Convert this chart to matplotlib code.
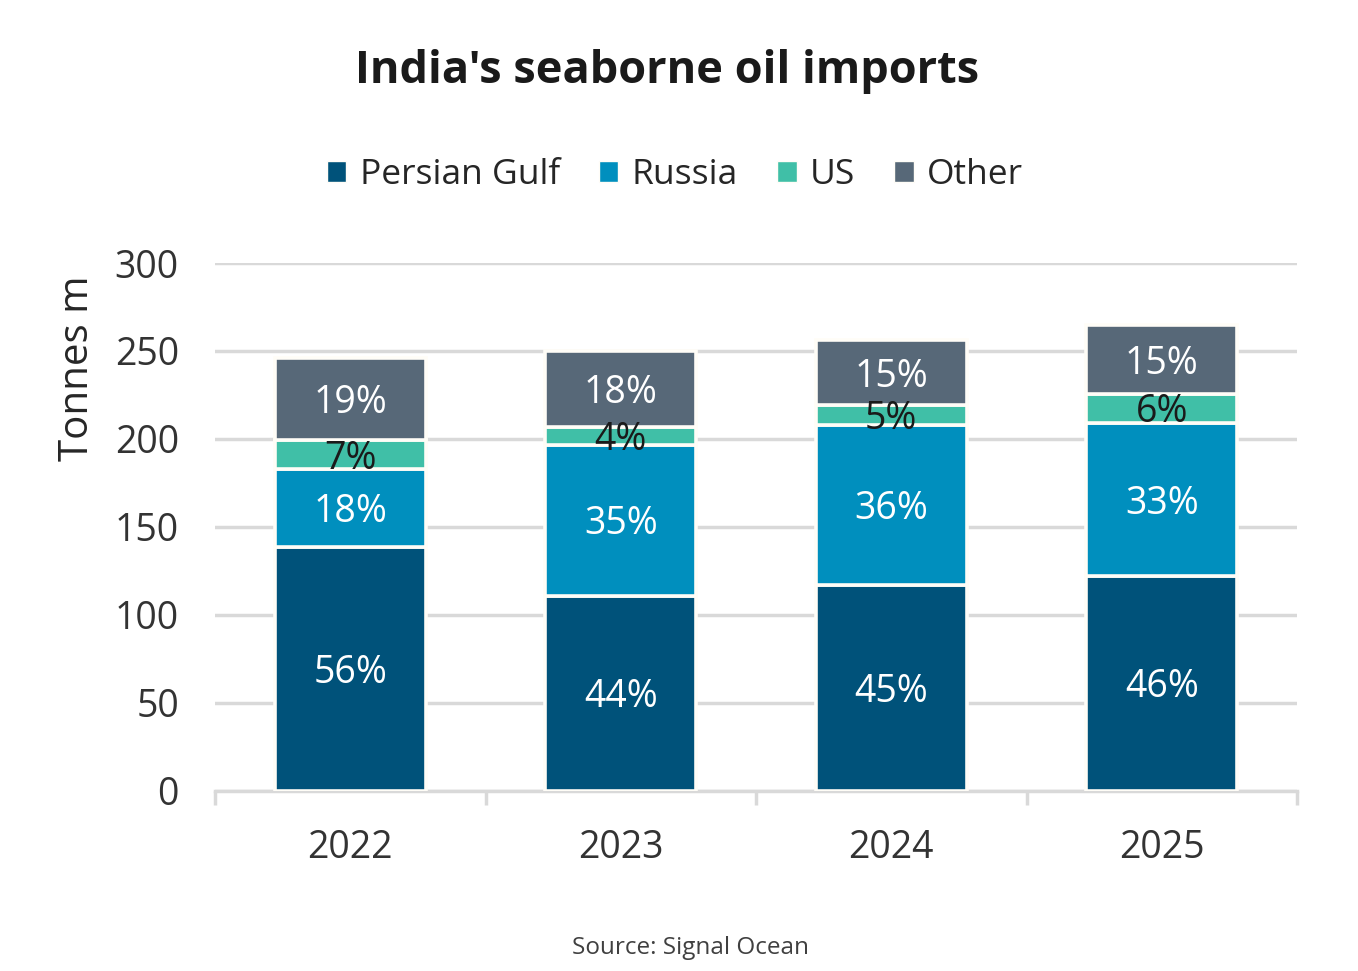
import matplotlib
matplotlib.use("Agg")
import matplotlib.pyplot as plt
from matplotlib.patches import Patch
import numpy as np

years = ["2022", "2023", "2024", "2025"]
persian_gulf = [138.3, 110.7, 116.8, 121.9]
russia = [44.4, 85.9, 91.0, 87.3]
us = [16.5, 10.1, 11.4, 16.3]
other = [46.7, 43.0, 36.8, 39.1]

pg_labels = ["56%", "44%", "45%", "46%"]
ru_labels = ["18%", "35%", "36%", "33%"]
us_labels = ["7%", "4%", "5%", "6%"]
ot_labels = ["19%", "18%", "15%", "15%"]

series_names = ["Persian Gulf", "Russia", "US", "Other"]
colors = ["#00527A", "#008FBE", "#40BFA7", "#576878"]
label_colors = ["white", "white", "#1a1a1a", "white"]

plt.rcParams['font.family'] = ['Open Sans', 'DejaVu Sans']

fig = plt.figure(figsize=(13.58, 9.71), dpi=100)
ax = fig.add_axes([215/1358, 1-790.5/971, (1297-215)/1358, (790.5-263)/971])

x = np.arange(len(years))
series = [persian_gulf, russia, us, other]
labels = [pg_labels, ru_labels, us_labels, ot_labels]
bottom = np.zeros(len(years))
for vals, col, labs, lc in zip(series, colors, labels, label_colors):
    vals = np.array(vals)
    ax.bar(x, vals, bottom=bottom, width=0.56, color=col,
           edgecolor="#FFFDF7", linewidth=2.6, zorder=3)
    for xi, b, v, t in zip(x, bottom, vals, labs):
        ax.annotate(t, (xi, b + v/2), xytext=(0, -3), textcoords="offset points",
                    ha="center", va="center", color=lc, fontsize=27, zorder=4)
    bottom += vals

ax.set_xlim(-0.5, len(years) - 0.5)
ax.set_ylim(0, 300)
ax.set_yticks(np.arange(0, 301, 50))
ax.yaxis.grid(True, color="#D9D9D9", linewidth=2.5, zorder=0)
ax.set_axisbelow(True)
for s in ["top", "right", "left"]:
    ax.spines[s].set_visible(False)
ax.spines["bottom"].set_color("#D9D9D9")
ax.spines["bottom"].set_linewidth(2.5)
ax.tick_params(axis="y", length=0, labelsize=27, labelcolor="#333333", pad=26)
ax.set_xticks(x)
ax.set_xticklabels(years)
ax.tick_params(axis="x", length=0, labelsize=27, labelcolor="#333333", pad=28)
ax.set_xticks(np.arange(-0.5, len(years), 1.0), minor=True)
ax.tick_params(axis="x", which="minor", length=10, width=2.5, color="#D9D9D9")

ax.set_ylabel("Tonnes m", fontsize=29, color="#262626")
ax.yaxis.set_label_coords(-0.108, 0.80)

fig.text(667/1358, 1-72/971, "India's seaborne oil imports", ha="center", va="center",
         fontsize=32.5, fontweight="bold", color="#1a1a1a")

handles = [Patch(facecolor=c, edgecolor="#FFFDF7", linewidth=1) for c in colors]
fig.legend(handles, series_names, loc="center", bbox_to_anchor=(675/1358, 1-175/971),
           ncol=4, frameon=False, fontsize=25.5, handlelength=0.55, handleheight=0.55,
           handletextpad=0.38, columnspacing=1.1, labelcolor="#262626")

fig.text(690/1358, 1-948/971, "Source: Signal Ocean", ha="center", va="center",
         fontsize=17.5, color="#404040")

fig.savefig("out.png", dpi=100, facecolor="white")
